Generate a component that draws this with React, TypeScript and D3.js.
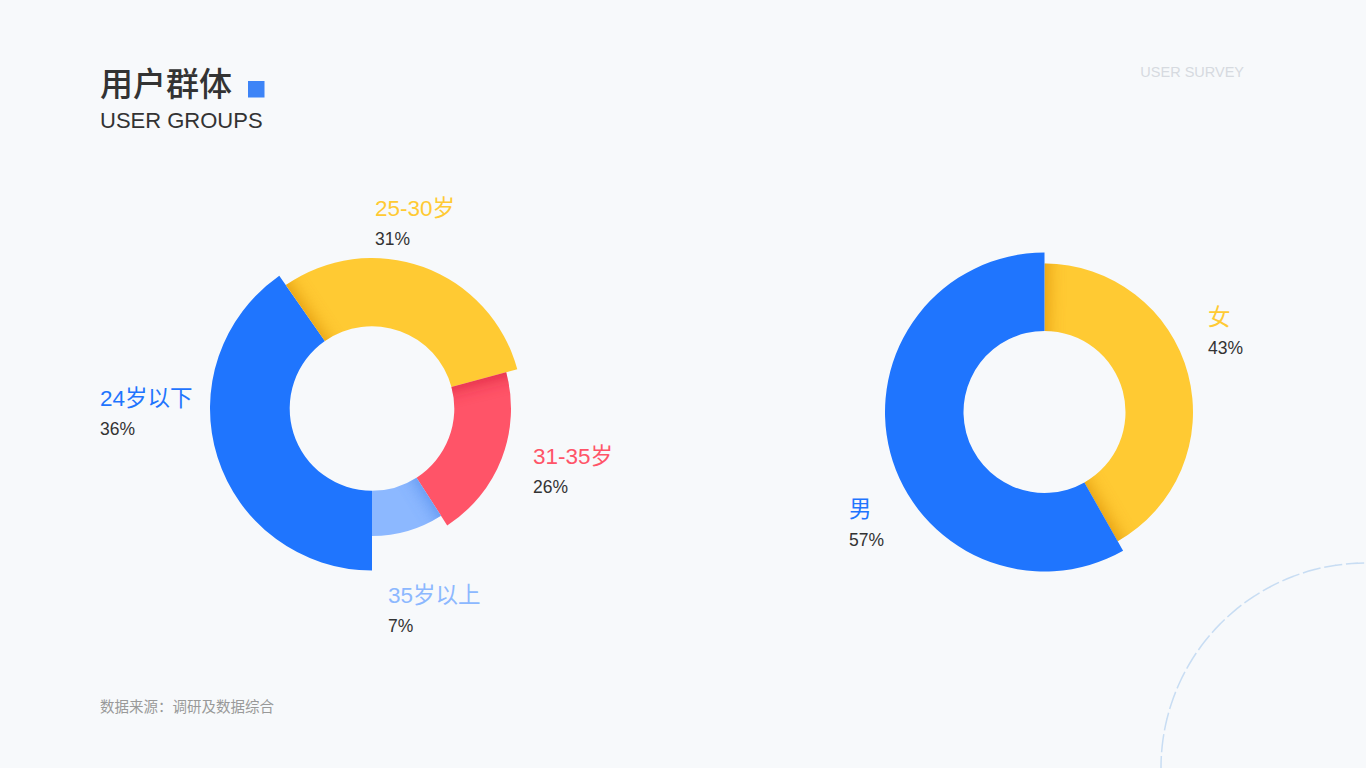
import React from 'react';
import * as d3 from 'd3';

// age groups (left donut)
const ageLabels = ['24岁以下', '25-30岁', '31-35岁', '35岁以上'];
const agePercent = [36, 31, 26, 7];
// share of the circle each slice actually covers in the design
const ageSweep = [40.3, 30.5, 20.1, 9.1];

// gender (right donut)
const genderLabels = ['女', '男'];
const genderPercent = [43, 57];
const genderSweep = [41.8, 58.2];

const W = 1366;
const H = 768;
const FONT = '"Liberation Sans", "Noto Sans CJK SC", sans-serif';

const BLUE = '#1f75fe';
const YELLOW = '#ffca33';
const RED = '#ff5468';
const LIGHT = '#8cb8ff';

interface DonutProps {
  id: string;
  cx: number;
  cy: number;
  values: number[];
  start: number;
  inner: number;
  radius: d3.ScaleLinear<number, number>;
  colors: string[];
  shadows: string[];
  shadowEdges: ('start' | 'end')[][];
}

const Donut: React.FC<DonutProps> = ({ id, cx, cy, values, start, inner, radius, colors, shadows, shadowEdges }) => {
  const pie = d3.pie<number>().sort(null).value(d => d).startAngle(start).endAngle(start + Math.PI * 2);
  const arcs = pie(values);
  const arc = d3.arc<d3.PieArcDatum<number>>()
    .innerRadius(inner)
    .outerRadius((d: any) => radius(d.index));

  const wedge = d3.arc<any>().innerRadius(inner - 20).outerRadius(200);

  return (
    <g transform={`translate(${cx},${cy})`}>
      <defs>
        {arcs.map((a, i) => (
          <clipPath id={`${id}-clip-${i}`} key={i}>
            <path d={arc(a) || ''} />
          </clipPath>
        ))}
      </defs>
      {arcs.map((a, i) => (
        <g key={i}>
          <path d={arc(a) || ''} fill={colors[i]} />
          <g clipPath={`url(#${id}-clip-${i})`}>
            {shadowEdges[i].map(edge => {
              const ang = edge === 'start' ? a.startAngle : a.endAngle;
              const d = edge === 'start'
                ? wedge({ startAngle: ang - 0.25, endAngle: ang + 0.02 })
                : wedge({ startAngle: ang - 0.02, endAngle: ang + 0.25 });
              return (
                <path key={edge} d={d || ''} fill={shadows[i]} opacity={0.8}
                  filter={`url(#blurShadow)`} />
              );
            })}
          </g>
        </g>
      ))}
    </g>
  );
};

const Label: React.FC<{ x: number; y: number; name: string; pct: number; color: string }> = ({ x, y, name, pct, color }) => (
  <g>
    <text x={x} y={y} fill={color} fontSize={22.5} fontFamily={FONT}>{name}</text>
    <text x={x} y={y + 29} fill="#333" fontSize={17.5} fontFamily={FONT}>{`${pct}%`}</text>
  </g>
);

export default function App() {
  const ageRadius = d3.scaleLinear().domain([0, ageLabels.length - 1]).range([162, 127.5]);
  const genderRadius = d3.scaleLinear().domain([0, genderLabels.length - 1]).range([148.5, 159.5]);

  const ageColors = [BLUE, YELLOW, RED, LIGHT];
  const ageShadows = ['#0b4fc0', '#d98a00', '#d41f38', '#4d88ea'];
  const genderColors = [YELLOW, BLUE];
  const genderShadows = ['#d98a00', '#0b4fc0'];

  const agePos = [
    { x: 100, y: 406 },
    { x: 375, y: 216 },
    { x: 533, y: 464 },
    { x: 388, y: 603 },
  ];
  const genderPos = [
    { x: 1208, y: 325 },
    { x: 849, y: 517 },
  ];

  const deco = d3.arc<any>()({ innerRadius: 205, outerRadius: 205, startAngle: -Math.PI / 2, endAngle: 0 });

  return (
    <svg width={W} height={H} style={{ position: 'absolute', left: 0, top: 0 }}>
      <defs>
        <filter id="blurShadow" filterUnits="userSpaceOnUse" x={-400} y={-400} width={800} height={800}>
          <feGaussianBlur stdDeviation={9} />
        </filter>
      </defs>
      <rect width={W} height={H} fill="#f7f9fb" />

      {/* header */}
      <text x={100} y={96} fill="#333" fontSize={33} fontWeight={500} fontFamily={'"Noto Sans CJK SC", sans-serif'}>用户群体</text>
      <rect x={248} y={81} width={16.5} height={16.5} fill="#3d84f7" />
      <text x={100} y={128} fill="#333" fontSize={22} fontFamily={FONT}>USER GROUPS</text>
      <text x={1244} y={77} fill="#d6dae0" fontSize={14.5} textAnchor="end" fontFamily={FONT}>USER SURVEY</text>

      <Donut id="age" cx={372} cy={408.5} values={ageSweep} start={Math.PI} inner={82.3}
        radius={ageRadius} colors={ageColors} shadows={ageShadows}
        shadowEdges={[[], ['start'], ['start'], ['start']]} />
      {ageLabels.map((l, i) => (
        <Label key={l} x={agePos[i].x} y={agePos[i].y} name={l} pct={agePercent[i]} color={ageColors[i]} />
      ))}

      <Donut id="gender" cx={1044.5} cy={412} values={genderSweep} start={0} inner={81}
        radius={genderRadius} colors={genderColors} shadows={genderShadows}
        shadowEdges={[['start', 'end'], []]} />
      {genderLabels.map((l, i) => (
        <Label key={l} x={genderPos[i].x} y={genderPos[i].y} name={l} pct={genderPercent[i]} color={genderColors[i]} />
      ))}

      {/* decorative dashed ring */}
      <path d={deco || ''} transform={`translate(${W},${H})`} fill="none" stroke="#c8ddf3"
        strokeWidth={1.5} strokeDasharray="12 10" />

      <text x={100} y={712} fill="#999" fontSize={14.5} fontFamily={'"Noto Sans CJK SC", sans-serif'}>数据来源：调研及数据综合</text>
    </svg>
  );
}
